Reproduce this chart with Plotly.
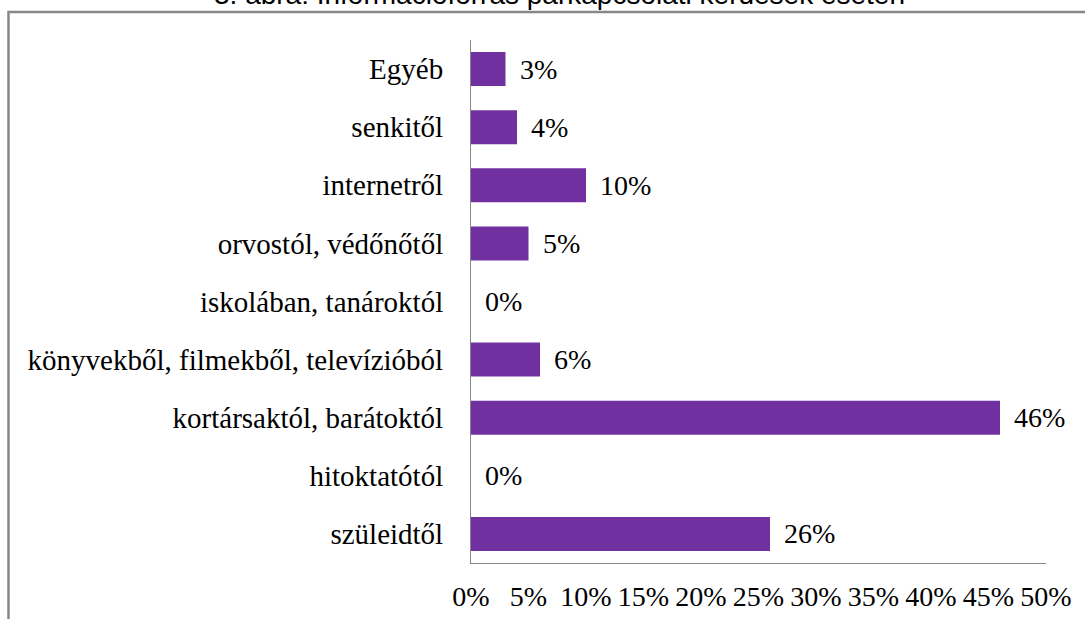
import plotly.graph_objects as go

categories = ["szüleidtől", "hitoktatótól", "kortársaktól, barátoktól",
              "könyvekből, filmekből, televízióból", "iskolában, tanároktól",
              "orvostól, védőnőtől", "internetről", "senkitől", "Egyéb"]
values = [0.26, 0.0, 0.46, 0.06, 0.0, 0.05, 0.10, 0.04, 0.03]
value_labels = ["26%", "0%", "46%", "6%", "0%", "5%", "10%", "4%", "3%"]
x_ticks = [0, 0.05, 0.10, 0.15, 0.20, 0.25, 0.30, 0.35, 0.40, 0.45, 0.50]
x_tick_labels = ["0%", "5%", "10%", "15%", "20%", "25%", "30%", "35%", "40%", "45%", "50%"]
title_text = "3. ábra: Információforrás párkapcsolati kérdések esetén"

serif = "Liberation Serif, Times New Roman, serif"

W, H = 1085, 619
L, R, T, B = 471, 39, 40, 56
pw, ph = W - L - R, H - T - B


def px(xp):
    return (xp - L) / pw


def py(yp):
    return (H - B - yp) / ph


fig = go.Figure()
fig.add_trace(go.Bar(
    x=values, y=categories, orientation="h",
    marker=dict(color="#7030A0", line=dict(width=0)),
    hoverinfo="skip",
))

annotations = []
for v, c, t in zip(values, categories, value_labels):
    annotations.append(dict(
        x=v, y=c, xref="x", yref="y", text=t, showarrow=False,
        xanchor="left", yanchor="middle", xshift=12,
        font=dict(family=serif, size=28, color="black"),
    ))

annotations.append(dict(
    x=px(559), y=py(6), xref="paper", yref="paper", text=title_text,
    showarrow=False, xanchor="center", yanchor="bottom", yshift=-6,
    font=dict(family="Liberation Sans, Arial, sans-serif", size=28, color="black"),
))

fig.update_layout(
    width=W, height=H,
    margin=dict(l=L, r=R, t=T, b=B, pad=0, autoexpand=False),
    paper_bgcolor="white", plot_bgcolor="white",
    showlegend=False,
    bargap=0.415,
    annotations=annotations,
    shapes=[dict(
        type="rect", xref="paper", yref="paper",
        x0=px(8.5), x1=px(1100), y0=py(640), y1=py(12),
        line=dict(color="#878787", width=2.5), fillcolor="rgba(0,0,0,0)",
        layer="below",
    )],
    xaxis=dict(
        range=[0, 0.5], tickvals=x_ticks, ticktext=x_tick_labels,
        showgrid=False, zeroline=False, automargin=False,
        showline=True, linecolor="#878787", linewidth=1,
        ticks="", ticklabelstandoff=8,
        tickfont=dict(family=serif, size=28, color="black"),
    ),
    yaxis=dict(
        categoryorder="array", categoryarray=categories,
        showgrid=False, zeroline=False, automargin=False,
        showline=True, linecolor="#878787", linewidth=1,
        ticks="", ticklabelstandoff=21,
        tickfont=dict(family=serif, size=29, color="black"),
    ),
)

fig.write_html(
    "out.html",
    config={"displayModeBar": False},
    post_script="document.body.style.margin='0';document.body.style.overflow='hidden';",
)
